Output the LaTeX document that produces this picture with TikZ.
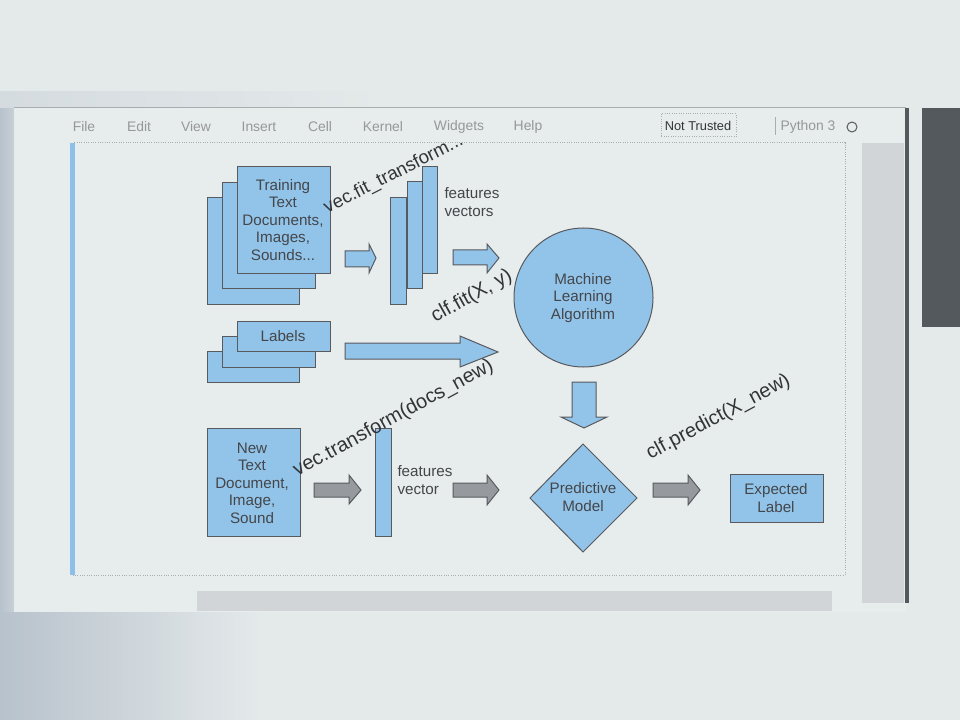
\documentclass[tikz,border=0pt]{standalone}
\usepackage{fontspec}
\setmainfont{Liberation Sans}

\definecolor{pagebg}{RGB}{228,233,234}
\definecolor{vignette}{RGB}{184,194,204}
\definecolor{panelbg}{RGB}{231,236,237}
\definecolor{framegray}{RGB}{168,173,176}
\definecolor{darkbar}{RGB}{84,89,94}
\definecolor{trackgray}{RGB}{209,213,215}
\definecolor{cellblue}{RGB}{140,192,232}
\definecolor{boxblue}{RGB}{146,196,234}
\definecolor{edgegray}{RGB}{88,90,94}
\definecolor{arrgray}{RGB}{150,154,158}
\definecolor{inkgray}{RGB}{68,70,74}
\definecolor{codeink}{RGB}{50,52,56}
\definecolor{menugray}{RGB}{150,152,155}

\tikzset{every picture/.style={line width=0.75pt}}
\tikzset{
  bluebox/.style={draw=edgegray, fill=boxblue},
  grayarrow/.style={draw=edgegray, fill=arrgray},
  boxtext/.style={text=inkgray, align=center, inner sep=0pt, font=\fontsize{11.4}{13.1}\selectfont},
  sidetext/.style={boxtext, align=left, anchor=west},
  codetext/.style={text=codeink, inner sep=0pt, anchor=base west, font=\fontsize{15}{18}\selectfont},
  menutext/.style={text=menugray, inner sep=0pt, font=\fontsize{10.4}{12}\selectfont}
}

\begin{document}
\begin{tikzpicture}[x=0.75pt,y=0.75pt,yscale=-1,xscale=1]
\useasboundingbox (0,0) rectangle (960,720);

%Background and screen frame
\fill[pagebg] (0,0) rectangle (960,720);
\shade[left color=vignette, right color=pagebg] (0,95) rectangle (40,720);
\shade[left color=vignette, right color=pagebg] (0,612) rectangle (260,720);
\shade[left color=vignette!35!pagebg, right color=pagebg] (0,92) rectangle (380,108);
\fill[panelbg] (14,108) rectangle (906,612);
\draw[framegray] (14,108) -- (906,108);
\fill[darkbar] (905,108) rectangle (909,603);
\fill[darkbar] (922,108) rectangle (960,327);
\fill[trackgray] (862,143) rectangle (904,603);
\fill[trackgray] (197,591) rectangle (832,611);

%Menu bar
\node[menutext] (mfile) at (84,127) {File};
\node[menutext] (medit) at (139,127) {Edit};
\node[menutext] (mview) at (196,127) {View};
\node[menutext] (minsert) at (259,127) {Insert};
\node[menutext] (mcell) at (320,127) {Cell};
\node[menutext] (mkernel) at (383,127) {Kernel};
\node[menutext] (mwidgets) at (459,127) {Widgets};
\node[menutext] (mhelp) at (528,127) {Help};
\draw[framegray, densely dotted] (661,114) rectangle (736,137);
\node[menutext, text=codeink, font=\fontsize{9.6}{11}\selectfont] (trust) at (698,126) {Not Trusted};
\draw[framegray] (775,117) -- (775,135);
\node[menutext] (kernelname) at (808,127) {Python 3};
\draw[edgegray] (852,127) circle (5);

%Cell
\draw[framegray, densely dotted] (73,143) rectangle (845,575);
\fill[cellblue] (70,143) rectangle (75,575);

%Training documents stack
\draw[bluebox] (207,198) rectangle (299,305);
\draw[bluebox] (222,183) rectangle (315,289);
\draw[bluebox] (237,167) rectangle (330,274);
\node[boxtext] (train) at (283,220) {Training\\Text\\Documents,\\Images,\\Sounds...};

%Right Arrow
\draw[bluebox] (345,251) -- (369,251) -- (369,244) -- (376,258) -- (369,273) -- (369,267) -- (345,267) -- cycle;

%Features vectors stack
\draw[bluebox] (390,198) rectangle (406,305);
\draw[bluebox] (407,182) rectangle (422,289);
\draw[bluebox] (422,167) rectangle (437,274);
\node[sidetext] (featvecs) at (444,202) {features\\vectors};

%Right Arrow
\draw[bluebox] (453,250) -- (487,250) -- (487,244) -- (499,258) -- (487,273) -- (487,265) -- (453,265) -- cycle;

%Labels stack
\draw[bluebox] (207,351) rectangle (299,382);
\draw[bluebox] (222,336) rectangle (315,367);
\draw[bluebox] (237,321) rectangle (330,351);
\node[boxtext] (labels) at (283,336) {Labels};

%Right Arrow (long)
\draw[bluebox] (345,343) -- (460,343) -- (460,336) -- (498,352) -- (460,367) -- (460,359) -- (345,359) -- cycle;

%Shape: Circle
\draw[bluebox] (583.5,297.5) circle (69.5);
\node[boxtext] (mla) at (583,298) {Machine\\Learning\\Algorithm};

%Down Arrow
\draw[bluebox] (572,382) -- (596,382) -- (596,417) -- (607,417) -- (584,428) -- (561,417) -- (572,417) -- cycle;

%Shape: Diamond
\draw[bluebox] (530,498) -- (583,444) -- (637,498) -- (583,552) -- cycle;
\node[boxtext] (model) at (583,497) {Predictive\\Model};

%New document
\draw[bluebox] (207,428) rectangle (300,536);
\node[boxtext] (newdoc) at (252,483) {New\\Text\\Document,\\Image,\\Sound};

%Right Arrow (gray)
\draw[grayarrow] (314,483) -- (349,483) -- (349,475) -- (361,490) -- (349,504) -- (349,497) -- (314,497) -- cycle;

%Features vector
\draw[bluebox] (375,428) rectangle (391,536);
\node[sidetext] (featvec) at (397,480) {features\\vector};

%Right Arrow (gray)
\draw[grayarrow] (453,483) -- (487,483) -- (487,475) -- (499,490) -- (487,505) -- (487,497) -- (453,497) -- cycle;

%Right Arrow (gray)
\draw[grayarrow] (653,483) -- (688,483) -- (688,475) -- (700,490) -- (688,505) -- (688,497) -- (653,497) -- cycle;

%Expected label
\draw[bluebox] (730,474) rectangle (823,522);
\node[boxtext] (expected) at (776,498) {Expected\\Label};

%Code labels
\node[codetext, rotate=27, font=\fontsize{14}{16}\selectfont] (fitx) at (327,214) {vec.fit\_transform...};
\node[codetext, rotate=29] (clffit) at (435,323) {clf.fit(X, y)};
\node[codetext, rotate=28.6] (transf) at (297,477) {vec.transform(docs\_new)};
\node[codetext, rotate=28.3] (clfpred) at (650,460) {clf.predict(X\_new)};

\end{tikzpicture}
\end{document}
